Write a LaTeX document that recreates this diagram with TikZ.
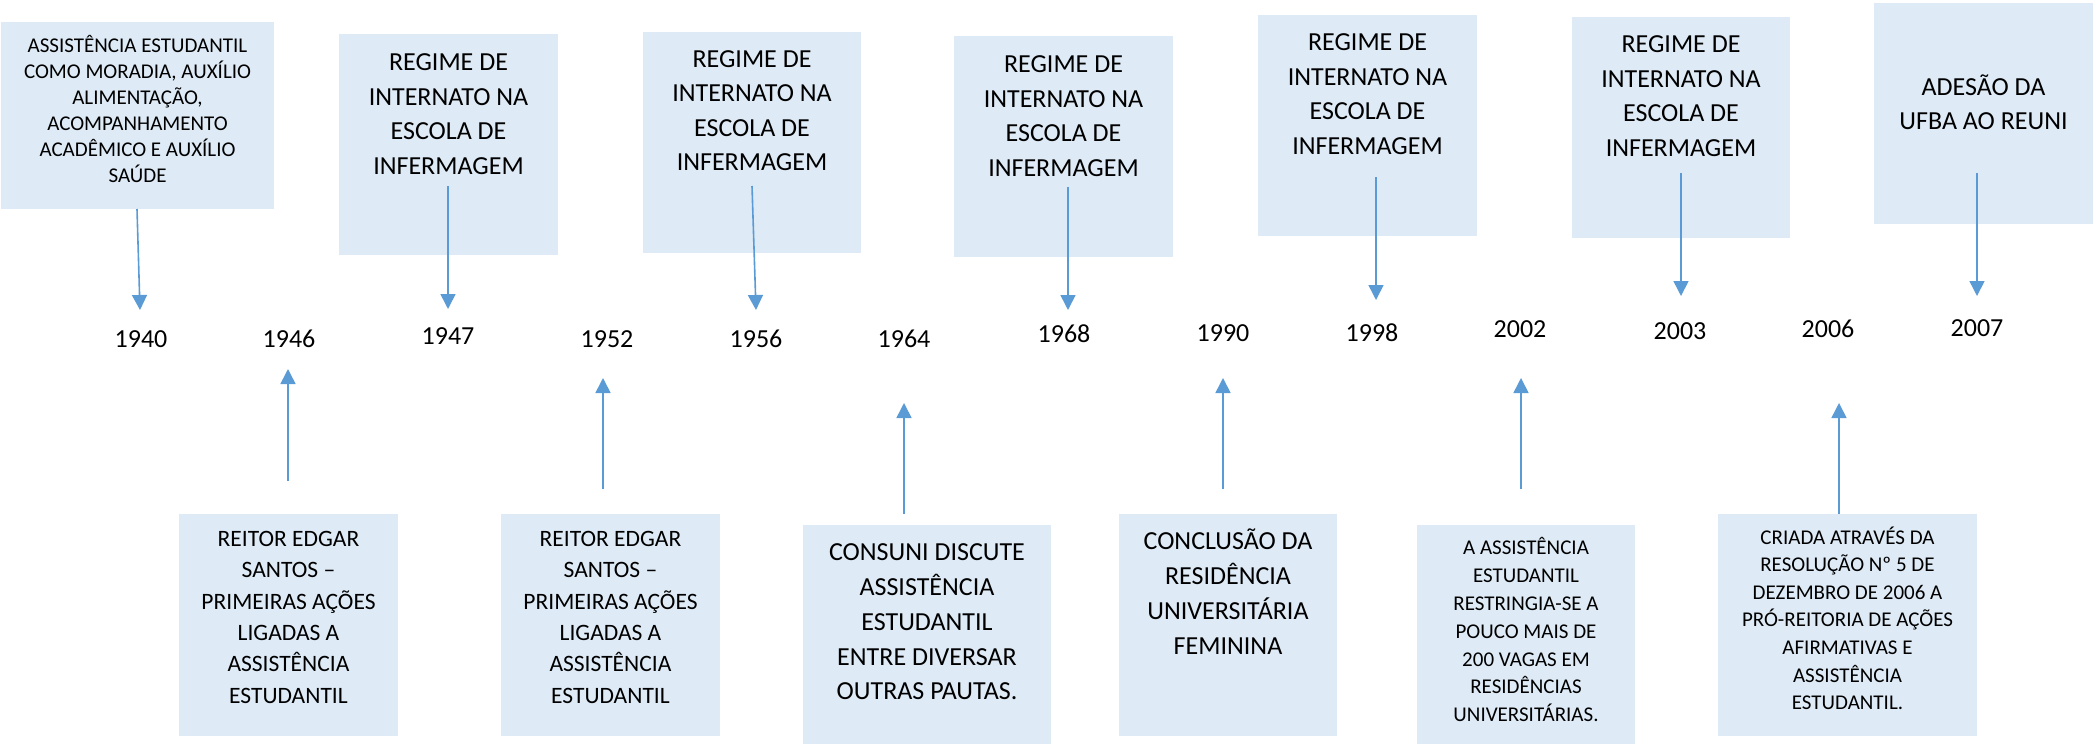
\documentclass[tikz,border=0pt]{standalone}
\usepackage{fontspec}
\setmainfont{Carlito}
\usetikzlibrary{arrows.meta}
\definecolor{boxblue}{HTML}{DEEBF7}
\definecolor{arrblue}{HTML}{5B9BD5}
\tikzset{
 boxst/.style={fill=boxblue, draw=none, inner sep=0, rectangle},
 txt/.style={align=center, inner sep=0, anchor=north, text=black},
 yr/.style={inner sep=0, font=\fontsize{13pt}{15pt}\selectfont},
 arr/.style={draw=arrblue, line width=0.8pt, -{Triangle[length=7.5pt,width=7.5pt]}},
}
\newcommand\mybox[5]{\node[boxst, minimum width={(#4-#2)*0.5pt}, minimum height={(#5-#3)*0.5pt}] (#1) at ({(#2+#4)/2},{(#3+#5)/2}) {};}
\newcommand\mytxt[6]{\node[txt, font=\fontsize{#4pt}{#5pt}\selectfont] (#1) at ({#2},{#3-1.256*#4}) {\rule{0pt}{0.95em}#6};}
\newcommand\myarr[5]{\coordinate (#1s) at (#2,#3); \coordinate (#1e) at (#4,#5); \draw[arr] (#1s) -- (#1e);}
\begin{document}
\begin{tikzpicture}[x=0.5pt,y=-0.5pt]
\useasboundingbox (0,0) rectangle (2094,744);
% boxes top
\mybox{b1940}{1}{22}{274}{209}
\mybox{b1947}{339}{34}{558}{255}
\mybox{b1956}{643}{32}{861}{253}
\mybox{b1968}{954}{36}{1173}{257}
\mybox{b1998}{1258}{15}{1477}{236}
\mybox{b2003}{1572}{17}{1790}{238}
\mybox{b2007}{1874}{3}{2093}{224}
% boxes bottom
\mybox{b1946}{179}{514}{398}{736}
\mybox{b1952}{501}{514}{720}{736}
\mybox{b1964}{803}{525}{1051}{744}
\mybox{b1990}{1119}{514}{1337}{736}
\mybox{b2002}{1417}{525}{1635}{744}
\mybox{b2006}{1718}{514}{1977}{736}
% texts top
\mytxt{t1940}{137.5}{45.7}{10.5}{13}{ASSISTÊNCIA ESTUDANTIL\\COMO MORADIA, AUXÍLIO\\ALIMENTAÇÃO,\\ACOMPANHAMENTO\\ACADÊMICO E AUXÍLIO\\SAÚDE}
\mytxt{t1947}{448.5}{62}{13}{17.3}{REGIME DE\\INTERNATO NA\\ESCOLA DE\\INFERMAGEM}
\mytxt{t1956}{752}{58.3}{13}{17.3}{REGIME DE\\INTERNATO NA\\ESCOLA DE\\INFERMAGEM}
\mytxt{t1968}{1063.5}{64}{13}{17.3}{REGIME DE\\INTERNATO NA\\ESCOLA DE\\INFERMAGEM}
\mytxt{t1998}{1367.5}{42}{13}{17.3}{REGIME DE\\INTERNATO NA\\ESCOLA DE\\INFERMAGEM}
\mytxt{t2003}{1681}{44}{13}{17.3}{REGIME DE\\INTERNATO NA\\ESCOLA DE\\INFERMAGEM}
\mytxt{t2007}{1983.5}{86.7}{13}{17}{ADESÃO DA\\UFBA AO REUNI}
% texts bottom
\mytxt{t1946}{288.5}{538.7}{11.75}{15.65}{REITOR EDGAR\\SANTOS –\\PRIMEIRAS AÇÕES\\LIGADAS A\\ASSISTÊNCIA\\ESTUDANTIL}
\mytxt{t1952}{610.5}{538.7}{11.75}{15.65}{REITOR EDGAR\\SANTOS –\\PRIMEIRAS AÇÕES\\LIGADAS A\\ASSISTÊNCIA\\ESTUDANTIL}
\mytxt{t1964}{927}{552}{13}{17.4}{CONSUNI DISCUTE\\ASSISTÊNCIA\\ESTUDANTIL\\ENTRE DIVERSAR\\OUTRAS PAUTAS.}
\mytxt{t1990}{1228}{541}{13}{17.5}{CONCLUSÃO DA\\RESIDÊNCIA\\UNIVERSITÁRIA\\FEMININA}
\mytxt{t2002}{1526}{547.7}{10.5}{13.9}{A ASSISTÊNCIA\\ESTUDANTIL\\RESTRINGIA-SE A\\POUCO MAIS DE\\200 VAGAS EM\\RESIDÊNCIAS\\UNIVERSITÁRIAS.}
\mytxt{t2006}{1847.5}{537}{10.5}{13.8}{CRIADA ATRAVÉS DA\\RESOLUÇÃO Nº 5 DE\\DEZEMBRO DE 2006 A\\PRÓ-REITORIA DE AÇÕES\\AFIRMATIVAS E\\ASSISTÊNCIA\\ESTUDANTIL.}
% years
\node[yr] (y1940) at (141,339) {1940};
\node[yr] (y1946) at (289,339) {1946};
\node[yr] (y1947) at (448,336) {1947};
\node[yr] (y1952) at (607,339) {1952};
\node[yr] (y1956) at (756,339) {1956};
\node[yr] (y1964) at (904,339) {1964};
\node[yr] (y1968) at (1064,334) {1968};
\node[yr] (y1990) at (1223,333) {1990};
\node[yr] (y1998) at (1372,333) {1998};
\node[yr] (y2002) at (1520,329) {2002};
\node[yr] (y2003) at (1680,331) {2003};
\node[yr] (y2006) at (1828,329) {2006};
\node[yr] (y2007) at (1977,328) {2007};
% arrows down
\myarr{a1940}{137}{209}{140}{310}
\myarr{a1947}{448}{186}{448}{309}
\myarr{a1956}{752}{186}{756}{310}
\myarr{a1968}{1068}{187}{1068}{310}
\myarr{a1998}{1376}{177}{1376}{300}
\myarr{a2003}{1681}{173}{1681}{296}
\myarr{a2007}{1977}{173}{1977}{296}
% arrows up
\myarr{a1946}{288}{481}{288}{369}
\myarr{a1952}{603}{489}{603}{378}
\myarr{a1964}{904}{514}{904}{403}
\myarr{a1990}{1223}{489}{1223}{378}
\myarr{a2002}{1521}{489}{1521}{378}
\myarr{a2006}{1839}{514}{1839}{403}
\end{tikzpicture}
\end{document}
